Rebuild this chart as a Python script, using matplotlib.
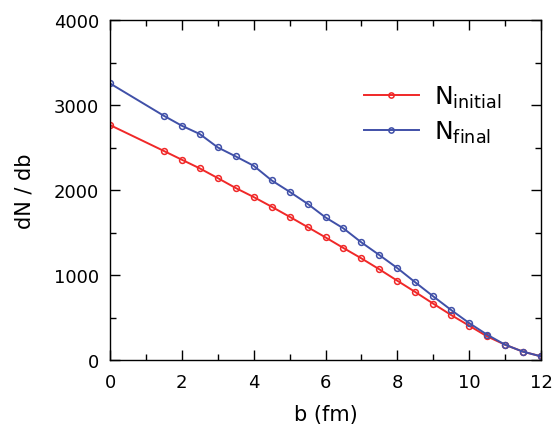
import matplotlib
matplotlib.use("Agg")
import matplotlib.pyplot as plt
from matplotlib.ticker import MultipleLocator

b = [0, 1.5, 2, 2.5, 3, 3.5, 4, 4.5, 5, 5.5, 6, 6.5, 7, 7.5, 8, 8.5,
     9, 9.5, 10, 10.5, 11, 11.5, 12]
n_initial = [2765, 2460, 2357, 2255, 2141, 2024, 1918, 1804, 1686, 1565,
             1443, 1318, 1196, 1067, 933, 800, 663, 529, 404, 278, 180, 98, 43]
n_final = [3255, 2874, 2757, 2659, 2502, 2396, 2286, 2114, 1980, 1839,
           1678, 1549, 1384, 1235, 1082, 914, 749, 588, 435, 298, 180, 98, 43]

plt.rcParams['font.family'] = ['DejaVu Sans']
plt.rcParams['mathtext.fontset'] = 'dejavusans'

fig = plt.figure(figsize=(5.54, 4.31), dpi=100)
ax = fig.add_axes([0.1986, 0.1624, 0.9765 - 0.1986, 0.951 - 0.1624])

red = '#f02828'
blue = '#4050a8'
ax.plot(b, n_initial, color=red, lw=1.4, marker='o', ms=4.2, mfc='none',
        mec=red, mew=1.1, label=r'$\mathrm{N}_{\mathrm{initial}}$')
ax.plot(b, n_final, color=blue, lw=1.4, marker='o', ms=4.2, mfc='none',
        mec=blue, mew=1.1, label=r'$\mathrm{N}_{\mathrm{final}}$')

ax.set_xlim(0, 12)
ax.set_ylim(0, 4000)
ax.xaxis.set_major_locator(MultipleLocator(2))
ax.xaxis.set_minor_locator(MultipleLocator(1))
ax.yaxis.set_major_locator(MultipleLocator(1000))
ax.yaxis.set_minor_locator(MultipleLocator(500))
ax.tick_params(which='both', direction='in', top=True, right=True,
               labelsize=13, width=1.0)
ax.tick_params(axis='x', which='both', pad=9)
ax.tick_params(axis='y', which='both', pad=8)
ax.tick_params(which='major', length=7)
ax.tick_params(which='minor', length=4)
for s in ax.spines.values():
    s.set_linewidth(1.0)

ax.set_xlabel('b (fm)', fontsize=15, labelpad=10)
ax.set_ylabel('dN / db', fontsize=15, labelpad=14)

ax.legend(loc='upper right', bbox_to_anchor=(0.96, 0.88), frameon=False,
          fontsize=18, handlelength=2.2, handletextpad=0.6, markerscale=0.9,
          labelspacing=0.35)

fig.savefig('out.png', dpi=100)
